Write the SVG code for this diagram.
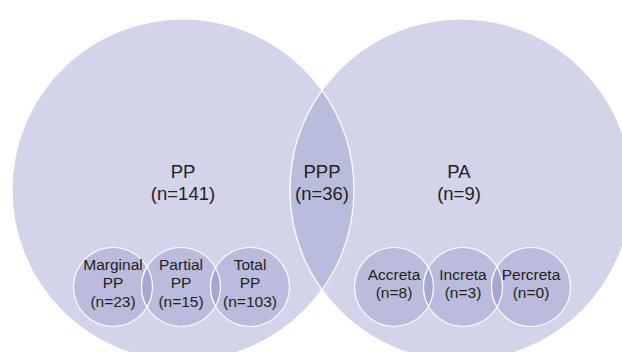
<svg xmlns="http://www.w3.org/2000/svg" width="622" height="352" viewBox="0 0 622 352">
<style>
.big{fill:#D3D4E9;stroke:#FFFFFF;stroke-width:1.2}
.lens{fill:#BABCDE;stroke:#FFFFFF;stroke-width:1.2}
.sm{fill:#BBBCDD;stroke:#FFFFFF;stroke-width:1.2}
.ov{fill:#A5A7D0;stroke:#FFFFFF;stroke-width:1.2}
.lbl{font-family:"Liberation Sans",Arial,sans-serif;font-size:18.5px;fill:#222222;text-anchor:middle}
.sl{font-family:"Liberation Sans",Arial,sans-serif;font-size:15.5px;fill:#222222;text-anchor:middle}
</style>
<rect width="622" height="352" fill="#FFFFFF"/>
<g id="PP">
<circle class="big" cx="183" cy="190" r="171"/>
</g>
<g id="PA">
<circle class="big" cx="461" cy="190" r="171"/>
</g>
<g id="PPP">
<path class="lens" d="M322,90.4 A171,171 0 0 1 322,289.6 A171,171 0 0 1 322,90.4 Z"/>
</g>
<g id="connectors"></g>
<g id="marginal"><circle class="sm" cx="113" cy="287" r="39.5"/></g>
<g id="partial"><circle class="sm" cx="181" cy="287" r="39.5"/></g>
<g id="total"><circle class="sm" cx="250" cy="287" r="39.5"/></g>
<g id="accreta"><circle class="sm" cx="394" cy="287" r="39.5"/></g>
<g id="increta"><circle class="sm" cx="463" cy="287" r="39.5"/></g>
<g id="percreta"><circle class="sm" cx="531" cy="287" r="39.5"/></g>
<g id="overlaps">
<path class="ov" d="M147,266.9 A39.5,39.5 0 0 1 147,307.1 A39.5,39.5 0 0 1 147,266.9 Z"/>
<path class="ov" d="M215.5,267.8 A39.5,39.5 0 0 1 215.5,306.2 A39.5,39.5 0 0 1 215.5,267.8 Z"/>
<path class="ov" d="M428.5,267.8 A39.5,39.5 0 0 1 428.5,306.2 A39.5,39.5 0 0 1 428.5,267.8 Z"/>
<path class="ov" d="M497,266.9 A39.5,39.5 0 0 1 497,307.1 A39.5,39.5 0 0 1 497,266.9 Z"/>
</g>
<g id="labels">
<text class="lbl" x="183" y="178">PP</text>
<text class="lbl" x="183" y="200">(n=141)</text>
<text class="lbl" x="322" y="178">PPP</text>
<text class="lbl" x="322" y="200">(n=36)</text>
<text class="lbl" x="459" y="178">PA</text>
<text class="lbl" x="459" y="200">(n=9)</text>
<text class="sl" x="113" y="270">Marginal</text>
<text class="sl" x="113" y="288">PP</text>
<text class="sl" x="113" y="307">(n=23)</text>
<text class="sl" x="181" y="270">Partial</text>
<text class="sl" x="181" y="288">PP</text>
<text class="sl" x="181" y="307">(n=15)</text>
<text class="sl" x="250" y="270">Total</text>
<text class="sl" x="250" y="288">PP</text>
<text class="sl" x="250" y="307">(n=103)</text>
<text class="sl" x="394" y="280">Accreta</text>
<text class="sl" x="394" y="298">(n=8)</text>
<text class="sl" x="463" y="280">Increta</text>
<text class="sl" x="463" y="298">(n=3)</text>
<text class="sl" x="531" y="280">Percreta</text>
<text class="sl" x="531" y="298">(n=0)</text>
</g>
</svg>
